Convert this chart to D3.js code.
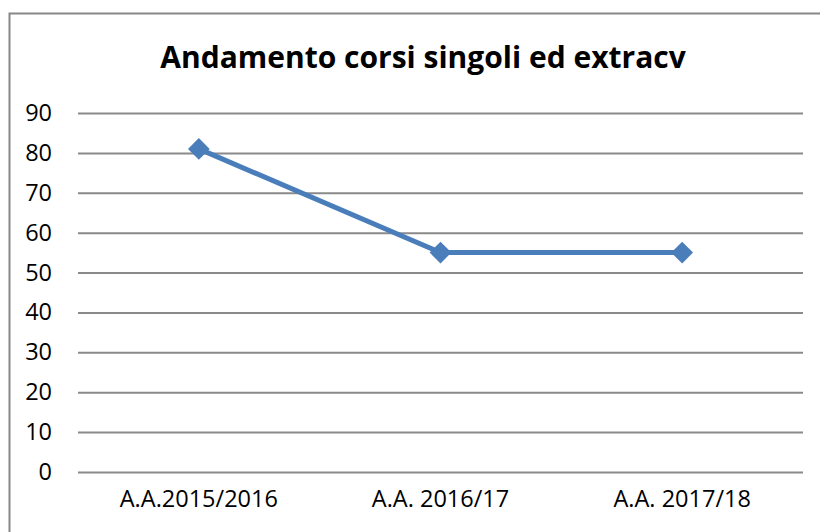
<!DOCTYPE html>
<html lang="it">
<head>
    <meta charset="UTF-8">
    <title>Andamento corsi singoli ed extracv</title>
    <style>
        body { margin: 0; background: #fff; }
        text { font-family: "Open Sans", sans-serif; fill: #000; }
    </style>
</head>
<body>
<div id="chart"></div>

<script src="https://d3js.org/d3.v7.min.js"></script>

<script>
    // Data
    var categories = ["A.A.2015/2016", "A.A. 2016/17", "A.A. 2017/18"];
    var values = [81, 55, 55];
    var yTicks = [0, 10, 20, 30, 40, 50, 60, 70, 80, 90];
    var title = "Andamento corsi singoli ed extracv";

    var vp = {width: 820, height: 532};
    var margin = {top: 113, right: 17, bottom: 60, left: 78};
    var w = vp.width - margin.left - margin.right;
    var h = vp.height - margin.top - margin.bottom;

    var svg = d3.select("#chart").append("svg")
        .attr("width", vp.width)
        .attr("height", vp.height);

    // Chart frame (right and bottom edges run off the page)
    svg.append("rect")
        .attr("x", 9.5).attr("y", 13.5)
        .attr("width", 830).attr("height", 540)
        .attr("fill", "none")
        .attr("stroke", "#878787")
        .attr("stroke-width", 2);

    svg.append("text")
        .attr("x", 423).attr("y", 68)
        .attr("text-anchor", "middle")
        .style("font-size", "30px")
        .style("font-weight", "bold")
        .text(title);

    var g = svg.append("g")
        .attr("transform", "translate(" + margin.left + "," + margin.top + ")");

    var x = d3.scaleBand().domain(categories).range([0, w]);
    var y = d3.scaleLinear().domain([0, 90]).range([h, 0]);

    // Horizontal gridlines + y labels
    var yAxis = g.append("g")
        .call(d3.axisLeft(y).tickValues(yTicks).tickSize(-w).tickPadding(26).tickFormat(d3.format("d")));
    yAxis.select(".domain").remove();
    yAxis.selectAll(".tick line").attr("stroke", "#8a8a8a").attr("stroke-width", 2);
    yAxis.selectAll(".tick text").style("font-size", "23.5px").attr("fill", "#000");

    // Category labels
    var xAxis = g.append("g")
        .attr("transform", "translate(0," + h + ")")
        .call(d3.axisBottom(x).tickSize(0).tickPadding(18));
    xAxis.select(".domain").remove();
    xAxis.selectAll(".tick text").style("font-size", "23.5px").attr("fill", "#000");

    var color = "#4a7ebb";
    var line = d3.line()
        .x(function(d, i) { return x(categories[i]) + x.bandwidth() / 2; })
        .y(function(d) { return y(d); });

    g.append("path")
        .datum(values)
        .attr("d", line)
        .attr("fill", "none")
        .attr("stroke", color)
        .attr("stroke-width", 5);

    // Diamond markers
    g.selectAll(".marker")
        .data(values)
        .enter().append("path")
        .attr("class", "marker")
        .attr("d", d3.symbol().type(d3.symbolDiamond2).size(300))
        .attr("transform", function(d, i) {
            return "translate(" + (x(categories[i]) + x.bandwidth() / 2) + "," + y(d) + ")";
        })
        .attr("fill", color);
</script>
</body>
</html>
